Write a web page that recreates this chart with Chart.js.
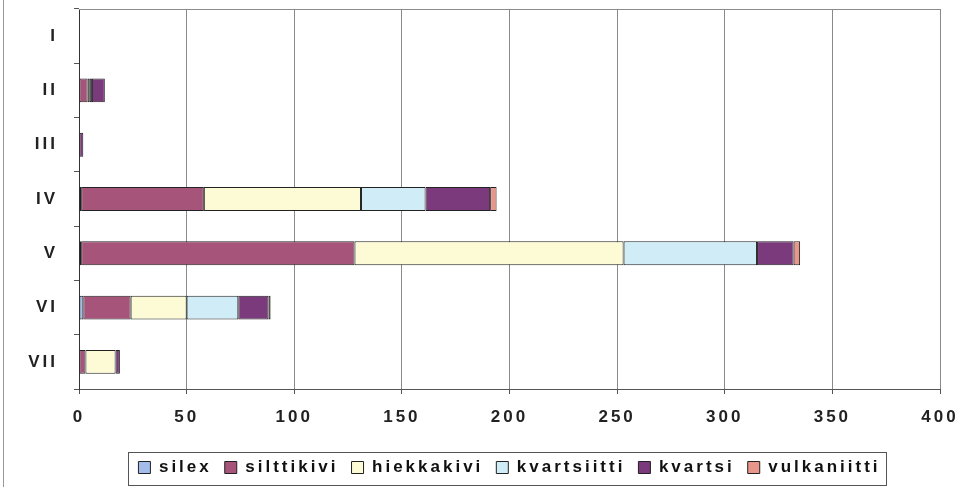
<!DOCTYPE html>
<html>
<head>
<meta charset="utf-8">
<script src="https://cdn.jsdelivr.net/npm/chart.js@4.4.0/dist/chart.umd.min.js"></script>
<style>
    html, body { margin: 0; padding: 0; background: #fff; }
    #wrap { position: relative; width: 960px; height: 487px; }
    #wrap:before { content: ''; position: absolute; left: 3px; top: 0; bottom: 0; border-left: 1px solid #999; }
</style>
</head>
<body>
<div id="wrap"><canvas id="chart" width="960" height="487"></canvas></div>
<script>
// periods (rows) and rock types (series)
const periods = ['I', 'II', 'III', 'IV', 'V', 'VI', 'VII'];
const silex       = [0, 0, 0, 1, 1, 2, 0];
const silttikivi  = [0, 4, 0, 57, 127, 22, 3];
const hiekkakivi  = [0, 1, 0, 73, 125, 26, 14];
const kvartsiitti = [0, 1, 0, 30, 62, 24, 0];
const kvartsi     = [0, 6, 2, 30, 17, 14, 2];
const vulkaniitti = [0, 0, 0, 3, 3, 1, 0];
const xTicks = [0, 50, 100, 150, 200, 250, 300, 350, 400];

const seriesNames = ['silex', 'silttikivi', 'hiekkakivi', 'kvartsiitti', 'kvartsi', 'vulkaniitti'];
const seriesData = [silex, silttikivi, hiekkakivi, kvartsiitti, kvartsi, vulkaniitti];
const seriesColors = ['#a4bcea', '#a6547a', '#fcfbd6', '#d0ecf7', '#7a3a7c', '#e8968a'];

const fontFamily = '"Liberation Sans", Arial, sans-serif';
const textFont = { family: fontFamily, size: 17, weight: 'bold' };

// the old scanned chart has wide letter spacing
const spacingPlugin = {
    id: 'spacing',
    beforeUpdate(chart) { chart.ctx.letterSpacing = '3px'; },
    beforeLayout(chart) { chart.ctx.letterSpacing = '3px'; },
    beforeDraw(chart) { chart.ctx.letterSpacing = '3px'; }
};

// plot frame + box round the legend
const framePlugin = {
    id: 'frame',
    beforeDatasetsDraw(chart) {
        const a = chart.chartArea;
        const ctx = chart.ctx;
        ctx.save();
        ctx.strokeStyle = '#8a8a8a';
        ctx.lineWidth = 1;
        ctx.beginPath();
        ctx.moveTo(a.left, Math.round(a.top) + 0.5);
        ctx.lineTo(a.right, Math.round(a.top) + 0.5);
        ctx.stroke();
        ctx.restore();
    },
    afterDraw(chart) {
        const boxes = chart.legend.legendHitBoxes;
        if (!boxes || !boxes.length) return;
        let left = Infinity, right = -Infinity, top = Infinity, bottom = -Infinity;
        boxes.forEach(b => {
            left = Math.min(left, b.left);
            right = Math.max(right, b.left + b.width);
            top = Math.min(top, b.top);
            bottom = Math.max(bottom, b.top + b.height);
        });
        const mid = (top + bottom) / 2;
        const ctx = chart.ctx;
        ctx.save();
        ctx.strokeStyle = '#555';
        ctx.lineWidth = 1;
        ctx.strokeRect(Math.round(left - 10) + 0.5, Math.round(mid - 16) + 0.5,
            Math.round(right - left + 16), 33);
        ctx.restore();
    }
};

new Chart(document.getElementById('chart').getContext('2d'), {
    type: 'bar',
    data: {
        labels: periods,
        datasets: seriesNames.map((name, i) => ({
            label: name,
            data: seriesData[i].map(v => v === 0 ? null : v),
            backgroundColor: seriesColors[i],
            borderColor: '#222',
            borderWidth: 1,
            borderSkipped: false,
            categoryPercentage: 0.44,
            barPercentage: 1
        }))
    },
    options: {
        indexAxis: 'y',
        responsive: false,
        animation: false,
        layout: { padding: { top: 9, right: 20, left: 0, bottom: 1 } },
        scales: {
            x: {
                stacked: true,
                min: 0,
                max: 400,
                afterBuildTicks: scale => { scale.ticks = xTicks.map(v => ({ value: v })); },
                afterFit: scale => {
                    scale.height = 57;
                    scale.paddingLeft = 0;
                    scale.paddingRight = 0;
                },
                grid: { color: '#8a8a8a', tickLength: 5, tickColor: '#555' },
                border: { color: '#555' },
                ticks: { color: '#222', font: textFont, padding: 13 }
            },
            y: {
                stacked: true,
                afterFit: scale => {
                    scale.width = 79;
                    scale.paddingTop = 0;
                    scale.paddingBottom = 0;
                },
                grid: { drawOnChartArea: false, tickLength: 5, tickColor: '#555', offset: true },
                border: { color: '#333' },
                ticks: { color: '#222', font: textFont, padding: 16 }
            }
        },
        plugins: {
            legend: {
                position: 'bottom',
                fullSize: false,
                labels: {
                    color: '#111',
                    font: textFont,
                    boxWidth: 12,
                    boxHeight: 12,
                    padding: 13
                }
            },
            tooltip: { enabled: false }
        }
    },
    plugins: [spacingPlugin, framePlugin]
});
</script>
</body>
</html>
